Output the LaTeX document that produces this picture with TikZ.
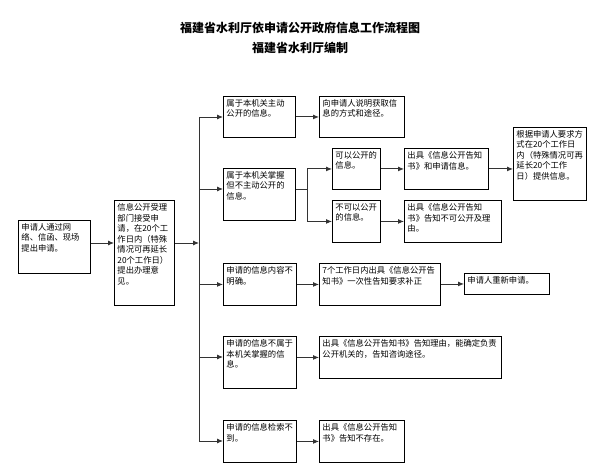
\documentclass[tikz,border=0pt]{standalone}
\usepackage{fontspec}
\setmainfont{Noto Sans CJK SC}
\usetikzlibrary{arrows.meta}
\newcommand\bx[6]{\node[box,minimum width=#4pt,minimum height=#5pt] (#1) at (#2,#3) {\parbox[t][\dimexpr#5pt-6pt\relax][t]{\dimexpr#4pt-6pt\relax}{\raggedright\XeTeXlinebreaklocale "zh"\XeTeXlinebreakskip=0pt plus 1pt #6}};}
\begin{document}
\begin{tikzpicture}[x=1pt,y=-1pt,
  box/.style={draw,line width=0.9pt,anchor=north west,inner sep=3pt,font=\fontsize{8.3}{10.5}\selectfont},
  arr/.style={draw=black!80,line width=0.9pt,-{Latex[length=6pt,width=5pt]}},
  ln/.style={draw=black!80,line width=0.9pt}]
\useasboundingbox (0,0) rectangle (600,468);
\node[font=\bfseries\fontsize{12}{14}\selectfont] (t1) at (300,28) {福建省水利厅依申请公开政府信息工作流程图};
\node[font=\bfseries\fontsize{12}{14}\selectfont] (t2) at (300,48) {福建省水利厅编制};
\bx{A}{18}{220}{72}{53}{申请人通过网络、信函、现场提出申请。}
\bx{B}{114}{200}{60}{105}{信息公开受理部门接受申请，在20个工作日内（特殊情况可再延长20个工作日）提出办理意见。}
\bx{C1}{223}{96}{72}{41}{属于本机关主动公开的信息。}
\bx{C2}{223}{168}{72}{52}{属于本机关掌握但不主动公开的信息。}
\bx{C3}{223}{263}{73}{42}{申请的信息内容不明确。}
\bx{C4}{223}{336}{73}{52}{申请的信息不属于本机关掌握的信息。}
\bx{C5}{223}{420}{73}{42}{申请的信息检索不到。}
\bx{D1}{319}{96}{85}{41}{向申请人说明获取信息的方式和途径。}
\bx{E1}{332}{148}{48}{41}{可以公开的信息。}
\bx{E2}{332}{200}{48}{42}{不可以公开的信息。}
\bx{F1}{404}{148}{84}{41}{出具《信息公开告知书》和申请信息。}
\bx{F2}{404}{200}{97}{42}{出具《信息公开告知书》告知不可公开及理由。}
\bx{G}{513}{127}{73}{73}{根据申请人要求方式在20个工作日内（特殊情况可再延长20个工作日）提供信息。}
\bx{D3}{319}{263}{121}{42}{7个工作日内出具《信息公开告知书》一次性告知要求补正}
\bx{H}{464}{273}{85}{21}{申请人重新申请。}
\bx{D4}{319}{336}{182}{42}{出具《信息公开告知书》告知理由，能确定负责公开机关的，告知咨询途径。}
\bx{D5}{319}{420}{85}{42}{出具《信息公开告知书》告知不存在。}
\coordinate (tt) at (199,117);
\coordinate (tb) at (199,441);
\coordinate (bk) at (307,189);
\draw[ln] (tt) -- (tb);
\draw[arr] (A.east |- 0,243) -- (B.west |- 0,243);
\draw[arr] (B.east |- 0,243) -- (tt |- 0,243);
\draw[arr] (tt) -- (tt -| C1.west);
\draw[arr] (tt |- 0,189) -- (C2.west |- 0,189);
\draw[arr] (tt |- C3.west) -- (C3.west);
\draw[arr] (tt |- 0,357) -- (C4.west |- 0,357);
\draw[arr] (tb) -- (tb -| C5.west);
\draw[arr] (C1.east) -- (D1.west);
\draw[ln] (C2.east |- bk) -- (bk);
\draw[arr] (bk) |- (E1.west);
\draw[arr] (bk) |- (E2.west);
\draw[arr] (E1.east) -- (F1.west);
\draw[arr] (E2.east) -- (F2.west);
\draw[arr] (F1.east) -- (F1.east -| G.west);
\draw[arr] (C3.east) -- (D3.west);
\draw[arr] (D3.east |- H.west) -- (H.west);
\draw[arr] (C4.east |- D4.west) -- (D4.west);
\draw[arr] (C5.east) -- (D5.west);
\end{tikzpicture}
\end{document}
